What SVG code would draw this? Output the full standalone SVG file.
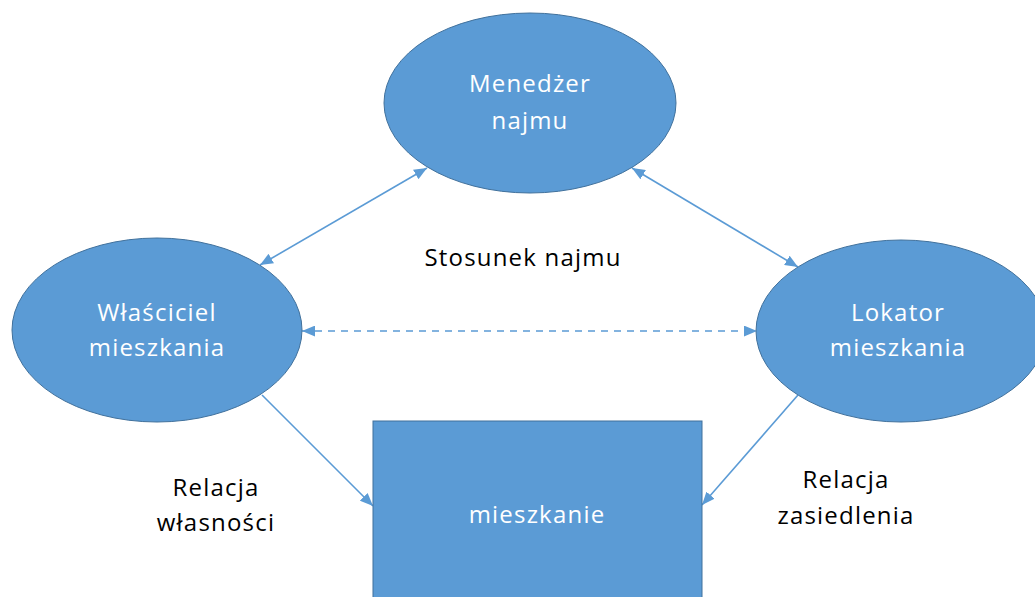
<svg xmlns="http://www.w3.org/2000/svg" width="1035" height="597" viewBox="0 0 1035 597">
  <defs>
    <marker id="arrow" viewBox="0 0 12 10" refX="12" refY="5" markerWidth="13" markerHeight="11" markerUnits="userSpaceOnUse" orient="auto-start-reverse">
      <path d="M0,0 L12,5 L0,10 z" fill="#5B9BD5"/>
    </marker>
    <style>
      .node { fill: #5B9BD5; stroke: #41719C; stroke-width: 1; }
      .inner { font-family: "Open Sans", "Liberation Sans", sans-serif; font-size: 24px; letter-spacing: 1.2px; fill: #FFFFFF; text-anchor: middle; }
      .label { font-family: "Open Sans", "Liberation Sans", sans-serif; font-size: 24px; letter-spacing: 1.2px; fill: #000000; text-anchor: middle; }
      .link { stroke: #5B9BD5; stroke-width: 1.6; fill: none; }
      .dash { stroke-dasharray: 7 6; }
    </style>
  </defs>
  <rect width="1035" height="597" fill="#FFFFFF"/>

  <g id="connectors">
    <line class="link" x1="427" y1="168" x2="260" y2="265" marker-start="url(#arrow)" marker-end="url(#arrow)"/>
    <line class="link" x1="632" y1="168" x2="798" y2="267" marker-start="url(#arrow)" marker-end="url(#arrow)"/>
    <line class="link dash" x1="302" y1="331" x2="757" y2="331" marker-start="url(#arrow)" marker-end="url(#arrow)"/>
    <line class="link" x1="262" y1="395" x2="373" y2="506" marker-end="url(#arrow)"/>
    <line class="link" x1="798" y1="395" x2="702" y2="505" marker-end="url(#arrow)"/>
  </g>

  <g id="menedzer">
    <ellipse class="node" cx="530" cy="103" rx="146" ry="90"/>
    <text class="inner" x="530" y="92">Menedżer</text>
    <text class="inner" x="530" y="129">najmu</text>
  </g>

  <g id="wlasciciel">
    <ellipse class="node" cx="157" cy="330" rx="145" ry="92"/>
    <text class="inner" x="157" y="321">Właściciel</text>
    <text class="inner" x="157" y="356">mieszkania</text>
  </g>

  <g id="lokator">
    <ellipse class="node" cx="901" cy="331" rx="145" ry="91"/>
    <text class="inner" x="898" y="321">Lokator</text>
    <text class="inner" x="898" y="356">mieszkania</text>
  </g>

  <g id="mieszkanie">
    <rect class="node" x="373" y="421" width="329" height="190"/>
    <text class="inner" x="537" y="523">mieszkanie</text>
  </g>

  <g id="labels">
    <text class="label" x="523" y="266">Stosunek najmu</text>
    <text class="label" x="216" y="496">Relacja</text>
    <text class="label" x="216" y="531">własności</text>
    <text class="label" x="846" y="488">Relacja</text>
    <text class="label" x="846" y="524">zasiedlenia</text>
  </g>
</svg>
